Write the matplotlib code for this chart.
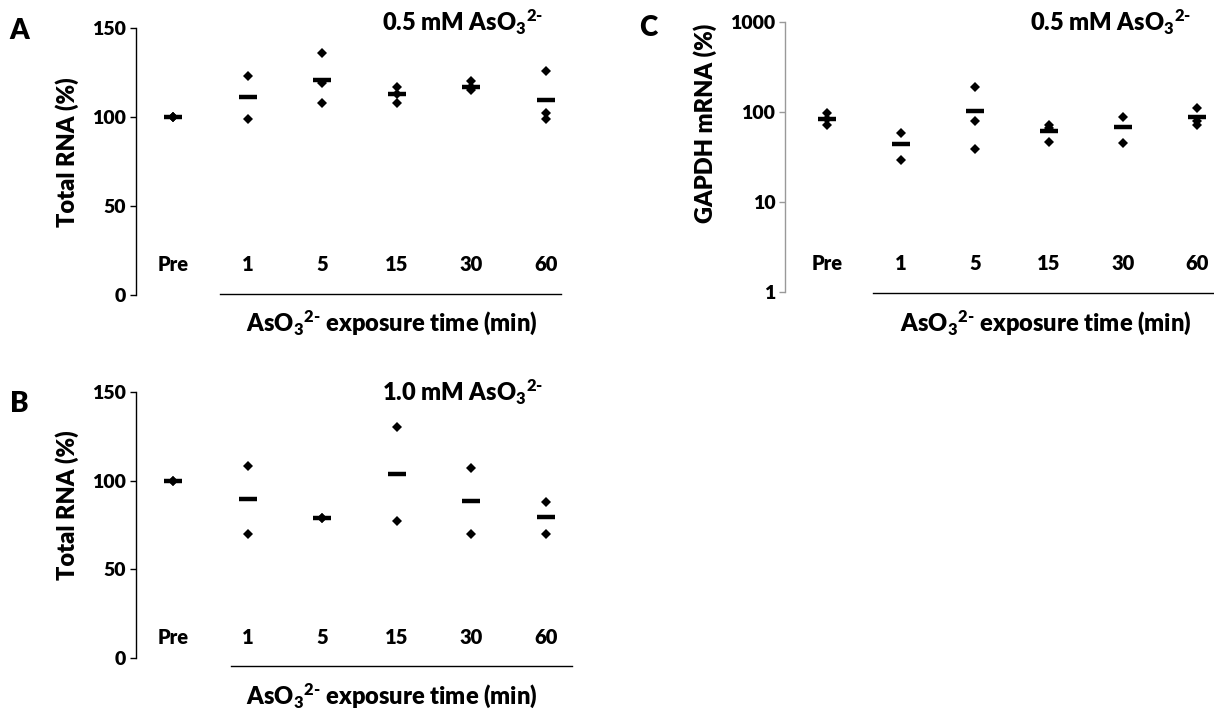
import numpy as np
import matplotlib
matplotlib.use("Agg")
import matplotlib.pyplot as plt
from matplotlib.lines import Line2D
from matplotlib.transforms import blended_transform_factory

plt.rcParams['font.family'] = ['Lato', 'DejaVu Sans']
plt.rcParams['font.weight'] = 'heavy'
plt.rcParams['mathtext.fontset'] = 'custom'
plt.rcParams['mathtext.rm'] = 'Lato:heavy'
plt.rcParams['mathtext.bf'] = 'Lato:heavy'
plt.rcParams['mathtext.it'] = 'Lato:heavy'

# categories (exposure time)
cats = ['Pre', '1', '5', '15', '30', '60']

# panel A: total RNA, 0.5 mM
a_pts = [[100, 100, 100], [123, 99], [136, 119, 108], [117, 113, 108],
         [120, 117, 115], [126, 102, 99]]
a_mean = [100, 111, 121, 113, 117, 109.5]

# panel B: total RNA, 1.0 mM
b_pts = [[100, 100], [108, 70], [79, 79], [130, 77], [107, 70], [88, 70]]
b_mean = [100, 89.8, 79, 103.5, 88.7, 79.5]

# panel C: GAPDH mRNA, 0.5 mM (log scale)
c_pts = [[97, 84, 71], [58, 29], [188, 80, 39], [72, 67, 47],
         [89, 45], [111, 80, 72]]
c_mean = [84, 44, 102, 62, 68, 88]

W, H = 1214, 713
fig = plt.figure(figsize=(W / 100, H / 100), dpi=100)


def px(x0, y0, x1, y1):
    # pixel box -> figure fraction rect
    return [x0 / W, 1 - y1 / H, (x1 - x0) / W, (y1 - y0) / H]


def panel(rect, pts, means, lab_y, spine_col):
    ax = fig.add_axes(rect)
    for i, vals in enumerate(pts):
        ax.plot([i] * len(vals), vals, 'D', color='black', ms=4.8, mew=0)
        ax.plot(i, means[i], '_', color='black', ms=13.5, mew=3.2)
    for s in ['top', 'right', 'bottom']:
        ax.spines[s].set_visible(False)
    ax.spines['left'].set_color(spine_col)
    ax.spines['left'].set_linewidth(1.0)
    ax.tick_params(axis='y', direction='out', length=4, width=1.0,
                   color=spine_col, labelsize=14, pad=3)
    ax.set_xticks([])
    tr = blended_transform_factory(ax.transData, ax.transAxes)
    for i, c in enumerate(cats):
        ax.text(i, lab_y, c, transform=tr, ha='center', va='baseline',
                fontsize=14.5, fontweight='heavy')
    return ax


# A
axA = panel(px(136, 28, 583, 295), a_pts, a_mean, 0.091, 'black')
axA.set_xlim(-0.5, 5.5)
axA.set_ylim(0, 150)
axA.set_yticks([0, 50, 100, 150])
axA.set_ylabel('Total RNA (%)', fontsize=17, fontweight='heavy')
axA.yaxis.set_label_coords(-0.128, 0.536)

# B
axB = panel(px(136, 392, 583, 658), b_pts, b_mean, 0.053, 'black')
axB.set_xlim(-0.5, 5.5)
axB.set_ylim(0, 150)
axB.set_yticks([0, 50, 100, 150])
axB.set_ylabel('Total RNA (%)', fontsize=17, fontweight='heavy')
axB.yaxis.set_label_coords(-0.128, 0.575)

# C
axC = panel(px(785, 22, 1214, 292), c_pts, c_mean, 0.080, '#999999')
axC.set_yscale('log')
axC.set_xlim(-0.57, 5.23)
axC.set_ylim(1, 1000)
axC.set_yticks([1, 10, 100, 1000])
axC.set_yticklabels(['1', '10', '100', '1000'])
axC.minorticks_off()
axC.set_ylabel('GAPDH mRNA (%)', fontsize=17, fontweight='heavy')
axC.yaxis.set_label_coords(-0.158, 0.626)

for ax in (axA, axB, axC):
    for t in ax.get_yticklabels():
        t.set_fontweight('heavy')

# underlines below the time labels
for (x0, x1, y) in [(220, 561, 293.5), (231, 572, 666), (873, 1214, 292.5)]:
    fig.add_artist(Line2D([x0 / W, x1 / W], [1 - y / H, 1 - y / H],
                          transform=fig.transFigure, color='black', lw=1.0))

sup = r'$_3$$^{2\text{-}}$'
xlab = 'AsO' + sup + ' exposure time (min)'
for (x, y) in [(392, 331), (392, 704), (1046, 331)]:
    fig.text(x / W, 1 - y / H, xlab, ha='center', va='baseline',
             fontsize=17, fontweight='heavy')

# concentration titles
for (x, y, conc) in [(543, 31.5, '0.5'), (543, 401.5, '1.0'), (1191, 31.5, '0.5')]:
    fig.text(x / W, 1 - y / H, conc + ' mM AsO' + sup, ha='right',
             va='baseline', fontsize=17, fontweight='heavy')

# panel letters
fig.text(19 / W, 1 - 39 / H, 'A', ha='center', va='baseline', fontsize=20)
fig.text(19 / W, 1 - 412 / H, 'B', ha='center', va='baseline', fontsize=20)
fig.text(648 / W, 1 - 36 / H, 'C', ha='center', va='baseline', fontsize=20)

fig.savefig('out.png', dpi=100)
